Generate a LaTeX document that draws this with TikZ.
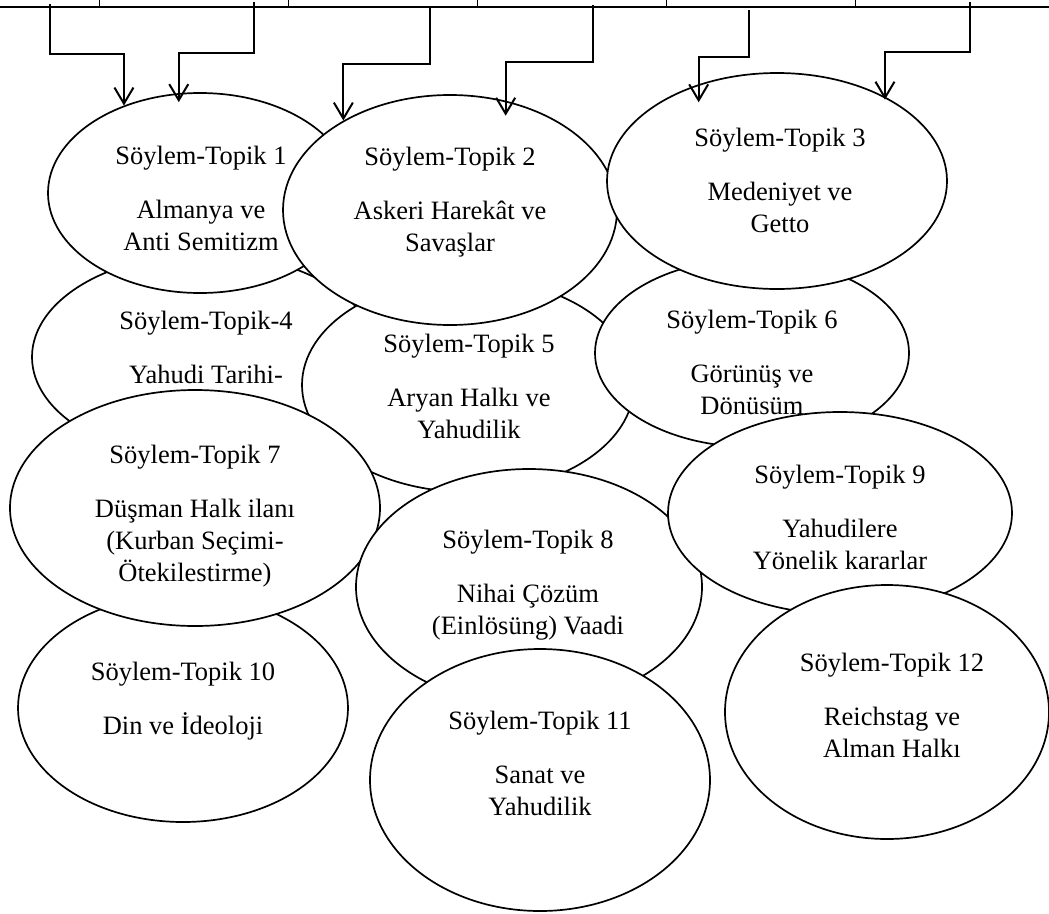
\documentclass[tikz,border=0pt]{standalone}
\usepackage{fontspec}
\setmainfont{Liberation Serif}
\usetikzlibrary{shapes,arrows,positioning}
\usetikzlibrary{arrows.meta}

\tikzset{
  topic/.style={ellipse, draw=black, fill=white, line width=1.7pt, inner sep=0pt},
  topictext/.style={align=center, inner sep=0pt, font=\fontsize{26.5}{32}\selectfont},
  link/.style={line width=2pt, -{Straight Barb[length=16pt,width=19pt]}}
}

\begin{document}
\begin{tikzpicture}[x=1pt,y=-1pt]
\useasboundingbox (0,0) rectangle (1049,913);

% Draw the table border at the top
\draw[line width=1.5pt] (0,7) -- (1049,7);
\foreach \x in {99,288,477,666,855}
  \draw[line width=1pt] (\x,0) -- (\x,7);

% Draw the topic ellipses, back to front
\node[topic, minimum width=346, minimum height=206] (t4) at (205,357) {};
\node[topictext] (l4) at (206,347) {Söylem-Topik-4\\[22pt]Yahudi Tarihi-};
\node[topic, minimum width=332, minimum height=214] (t5) at (468,385) {};
\node[topictext] (l5) at (469,386) {Söylem-Topik 5\\[22pt]Aryan Halkı ve\\Yahudilik};
\node[topic, minimum width=314, minimum height=188] (t6) at (752,353) {};
\node[topictext] (l6) at (752,362) {Söylem-Topik 6\\[22pt]Görünüş ve\\Dönüsüm};
\node[topic, minimum width=304, minimum height=200] (t1) at (200,193) {};
\node[topictext] (l1) at (201,198) {Söylem-Topik 1\\[22pt]Almanya ve\\Anti Semitizm};
\node[topic, minimum width=334, minimum height=230] (t2) at (450,210) {};
\node[topictext] (l2) at (450,202) {Söylem-Topik 2\\[22pt]Askeri Harekât ve\\Savaşlar};
\node[topic, minimum width=340, minimum height=216] (t3) at (777,181) {};
\node[topictext] (l3) at (780,180) {Söylem-Topik 3\\[22pt]Medeniyet ve\\Getto};
\node[topic, minimum width=330, minimum height=228] (t10) at (183,708) {};
\node[topictext] (l10) at (183,701) {Söylem-Topik 10\\[22pt]Din ve İdeoloji};
\node[topic, minimum width=370, minimum height=236] (t7) at (195,508) {};
\node[topictext] (l7) at (195,516) {Söylem-Topik 7\\[22pt]Düşman Halk ilanı\\(Kurban Seçimi-\\Ötekilestirme)};
\node[topic, minimum width=346, minimum height=236] (t8) at (529,587) {};
\node[topictext] (l8) at (528,585) {Söylem-Topik 8\\[22pt]Nihai Çözüm\\(Einlösüng) Vaadi};
\node[topic, minimum width=344, minimum height=202] (t9) at (840,513) {};
\node[topictext] (l9) at (840,517) {Söylem-Topik 9\\[22pt]Yahudilere\\Yönelik kararlar};
\node[topic, minimum width=340, minimum height=262] (t11) at (540,780) {};
\node[topictext] (l11) at (540,763) {Söylem-Topik 11\\[22pt]Sanat ve\\Yahudilik};
\node[topic, minimum width=324, minimum height=254] (t12) at (887,712) {};
\node[topictext] (l12) at (892,705) {Söylem-Topik 12\\[22pt]Reichstag ve\\Alman Halkı};

% Start and bend points of the connectors
\foreach \sx/\sy/\by [count=\i] in {50/4/54, 254/2/53, 430/7/64, 593/5/62, 749/10/57, 970/2/52} {
  \coordinate (s\i) at (\sx,\sy);
  \coordinate (b\i) at (\sx,\by);
}

% Elbow connectors down to the ellipses
\foreach \i/\tgt/\ang/\ext in {1/t1/131/0pt, 2/t1/102/9pt, 3/t2/140/0pt, 4/t2/63/15pt, 5/t3/129/18pt, 6/t3/38/3pt}
  \draw[link, shorten >=-\ext] (s\i) -- (b\i) -| (\tgt.\ang);

\end{tikzpicture}
\end{document}
